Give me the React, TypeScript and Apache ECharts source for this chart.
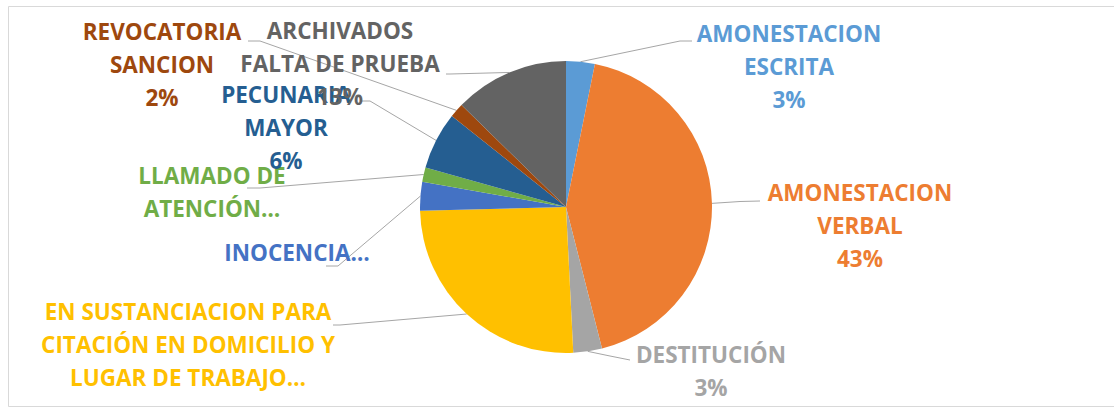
import React, { useEffect, useRef } from "react";
import * as echarts from "echarts";

const categories = [
  "AMONESTACION ESCRITA",
  "AMONESTACION VERBAL",
  "DESTITUCIÓN",
  "EN SUSTANCIACION PARA CITACIÓN EN DOMICILIO Y LUGAR DE TRABAJO",
  "INOCENCIA",
  "LLAMADO DE ATENCIÓN",
  "PECUNARIA MAYOR",
  "REVOCATORIA SANCION",
  "ARCHIVADOS FALTA DE PRUEBA",
];
const counts = [2, 27, 2, 16, 2, 1, 4, 1, 8];
const labelTexts = [
  ["AMONESTACION", "ESCRITA"],
  ["AMONESTACION", "VERBAL"],
  ["DESTITUCIÓN"],
  ["EN SUSTANCIACION PARA", "CITACIÓN EN DOMICILIO Y", "LUGAR DE TRABAJO…"],
  ["INOCENCIA…"],
  ["LLAMADO DE", "ATENCIÓN…"],
  ["PECUNARIA", "MAYOR"],
  ["REVOCATORIA", "SANCION"],
  ["ARCHIVADOS", "FALTA DE PRUEBA"],
];
const showPercent = [true, true, true, false, false, false, true, true, true];

// styles / layout
const palette = ["#5B9BD5", "#ED7D31", "#A5A5A5", "#FFC000", "#4472C4", "#70AD47", "#255E91", "#9E480E", "#636363"];
const labelAnchor = [
  [789, 66],
  [860, 225],
  [711, 371],
  [188, 344],
  [297, 252],
  [212, 192],
  [286, 127],
  [162, 64],
  [340, 63],
];
const leaderMid = [
  [680, 41],
  [740, 201.5],
  [610, 356],
  [340, 325],
  [338, 266],
  [260, 188],
  [370, 101],
  [260, 41],
  [450, 74],
];
const leaderEnd = [
  [692, 41],
  [760, 201],
  [630, 360],
  [333, 325],
  [326, 266],
  [247, 188],
  [362, 101],
  [248, 41],
  [446, 74],
];

export default function App() {
  const ref = useRef<HTMLDivElement>(null);
  useEffect(() => {
    if (!ref.current) return;
    const chart = echarts.init(ref.current, null, { renderer: "svg" });
    const option: any = {
      animation: false,
      graphic: [
        {
          type: "rect",
          silent: true,
          shape: { x: 8.5, y: 6.5, width: 1120, height: 400 },
          style: { fill: "none", stroke: "#d9d9d9", lineWidth: 1 },
        },
      ],
      series: [
        {
          type: "pie",
          center: [566, 207],
          radius: 146,
          startAngle: 90,
          clockwise: true,
          avoidLabelOverlap: false,
          percentPrecision: 0,
          itemStyle: { borderWidth: 0 },
          emphasis: { disabled: true },
          data: categories.map((name, i) => ({
            name,
            value: counts[i],
            itemStyle: { color: palette[i] },
            label: { color: palette[i] },
          })),
          label: {
            show: true,
            position: "outside",
            fontFamily: "'Open Sans', sans-serif",
            fontSize: 22.5,
            fontWeight: "bold",
            lineHeight: 33,
            align: "center",
            formatter: (p: any) => {
              const lines = labelTexts[p.dataIndex].slice();
              if (showPercent[p.dataIndex]) lines.push(Math.round(p.percent) + "%");
              return lines.join("\n");
            },
          },
          labelLine: {
            show: true,
            length: 10,
            length2: 10,
            smooth: false,
            lineStyle: { color: "#a6a6a6", width: 1 },
          },
          labelLayout: (params: any) => {
            const i = params.dataIndex;
            const start =
              params.labelLinePoints && params.labelLinePoints[0]
                ? params.labelLinePoints[0]
                : leaderMid[i];
            return {
              x: labelAnchor[i][0],
              y: labelAnchor[i][1],
              align: "center",
              verticalAlign: "middle",
              labelLinePoints: [start, leaderMid[i], leaderEnd[i]],
            };
          },
        },
      ],
    };
    chart.setOption(option);
    return () => chart.dispose();
  }, []);
  return (
    <div
      ref={ref}
      style={{ position: "absolute", left: 0, top: 0, width: 1114, height: 408 }}
    />
  );
}
